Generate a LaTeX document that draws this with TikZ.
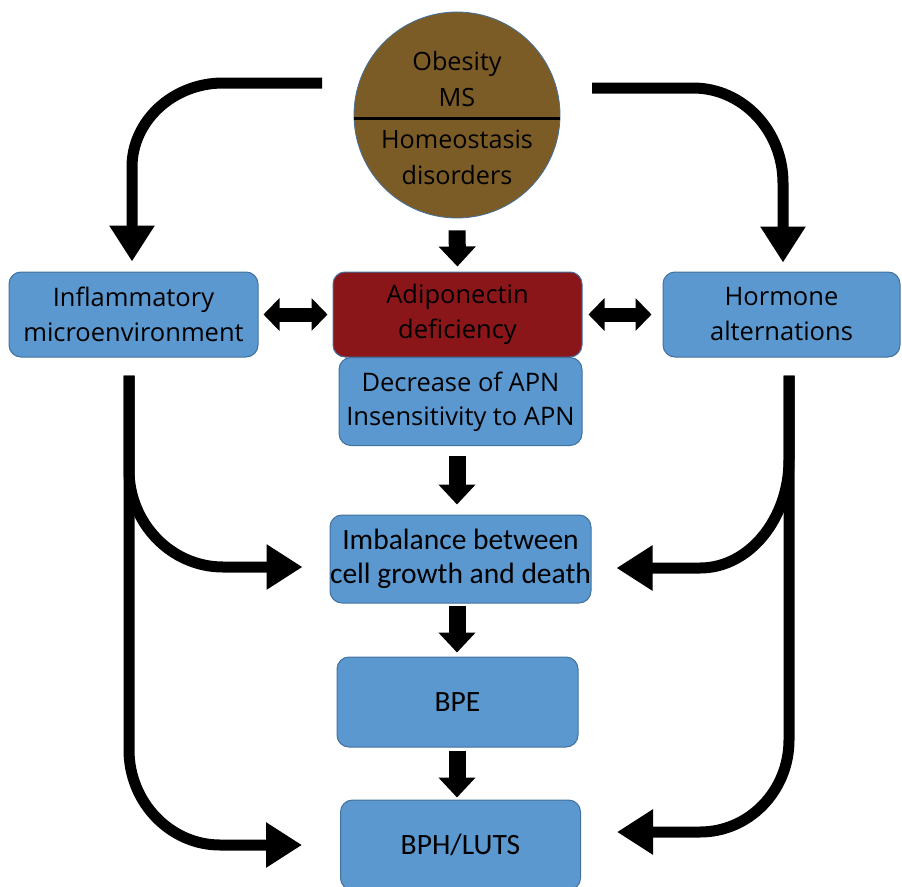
\documentclass[tikz,border=0pt]{standalone}
\usepackage{fontspec}
\setmainfont{Open Sans}
\newfontfamily\calfont{Carlito}
\usetikzlibrary{arrows.meta}
\definecolor{boxblue}{RGB}{91,152,208}
\definecolor{boxedge}{RGB}{65,113,156}
\definecolor{adred}{RGB}{139,22,26}
\definecolor{obbrown}{RGB}{124,92,38}
\begin{document}
\begin{tikzpicture}[x=1pt,y=-1pt,
  box/.style={draw=boxedge, line width=1pt, fill=boxblue, rounded corners=12pt,
    align=center, inner sep=0pt, font=\fontsize{25.5}{35}\selectfont},
  calbox/.style={font=\calfont\fontsize{29.5}{34}\selectfont},
  circtext/.style={anchor=base, inner sep=0pt, font=\fontsize{25.2}{30}\selectfont},
  bigarrow/.style={line width=11pt, -{Triangle[length=36pt,width=43pt]}},
  blockarrow/.style={line width=17pt, -{Triangle[length=20pt,width=36pt]}},
  dblarrow/.style={line width=14pt, {Triangle[length=16pt,width=32pt]}-{Triangle[length=16pt,width=32pt]}}
]
\useasboundingbox (0,0) rectangle (902,886);

% nodes
\node[circle, draw=boxedge, line width=0.8pt, fill=obbrown, minimum size=206pt, inner sep=0pt] (obes) at (457,115) {};
\draw[line width=3pt] ([yshift=-3pt]obes.west) -- ([yshift=-3pt]obes.east);
\node[circtext] (t1) at (457,70) {Obesity};
\node[circtext] (t2) at (457,106) {MS};
\node[circtext] (t3) at (457,148) {Homeostasis};
\node[circtext] (t4) at (457,184) {disorders};

\node[box, minimum width=249pt, minimum height=85pt] (inflam) at (133.5,314.5) {Inflammatory\\microenvironment};
\node[box, fill=adred, minimum width=249pt, minimum height=85pt] (adipo) at (457.5,314.5) {Adiponectin\\deficiency};
\node[box, minimum width=237pt, minimum height=85pt] (horm) at (781.5,314.5) {Hormone\\alternations};
\node[box, font=\fontsize{25.5}{34}\selectfont, minimum width=243pt, minimum height=88pt] (decr) at (460.5,401.5) {Decrease of APN\\Insensitivity to APN};
\node[box, calbox, minimum width=261pt, minimum height=88pt] (imb) at (460.5,559) {Imbalance between\\cell growth and death};
\node[box, calbox, minimum width=241pt, minimum height=90pt] (bpe) at (457.5,702) {BPE};
\node[box, calbox, minimum width=240pt, minimum height=90pt] (bph) at (460.5,845) {BPH/LUTS};

% free ends and bends
\coordinate (ls) at (322,83);
\coordinate (lb) at (132,167);
\coordinate (rs) at (592,88);
\coordinate (rb) at (783,183);
\coordinate (lc1) at (223,567);
\coordinate (lc2) at (220,845);
\coordinate (rc1) at (700,568);
\coordinate (rc2) at (700,832);

% top curved arrows
\draw[bigarrow, shorten >=10pt] (ls) -- (223,83) .. controls (173,83) and (132,121) .. (lb) -- (lb |- inflam.north);
\draw[bigarrow, shorten >=9pt] (rs) -- (693,88) .. controls (743,88) and (783,131) .. (rb) -- (rb |- horm.north);

% left side arrows
\draw[bigarrow, shorten <=18pt, shorten >=27pt] ([xshift=-4.5pt]inflam.south) -- (129,470) .. controls (129,523) and (171,567) .. (lc1) -- (lc1 -| imb.west);
\draw[bigarrow, shorten <=18pt, shorten >=38pt] ([xshift=-4.5pt]inflam.south) -- (129,750) .. controls (129,802) and (170,845) .. (lc2) -- (lc2 -| bph.west);

% right side arrows
\draw[bigarrow, shorten <=18pt, shorten >=25pt] ([xshift=7.5pt]horm.south) -- (789,460) .. controls (789,519) and (749,568) .. (rc1) -- (rc1 -| imb.east);
\draw[bigarrow, shorten <=18pt, shorten >=36pt] ([xshift=7.5pt]horm.south) -- (789,740) .. controls (789,791) and (749,832) .. (rc2) -- (rc2 -| bph.east);

% block arrows
\draw[blockarrow, shorten <=12pt, shorten >=5pt] (obes.south) -- (adipo.north);
\draw[blockarrow, shorten <=10pt, shorten >=10pt] ([xshift=-3.5pt]decr.south) -- ([xshift=-3.5pt]imb.north);
\draw[blockarrow, shorten <=2pt, shorten >=4pt] ([xshift=-3.5pt]imb.south) -- ([xshift=-0.5pt]bpe.north);
\draw[blockarrow, shorten <=3pt, shorten >=2pt] ([xshift=-0.5pt]bpe.south) -- ([xshift=-3.5pt]bph.north);

% double arrows
\draw[dblarrow, shorten <=5pt, shorten >=5pt] (inflam.east) -- (adipo.west);
\draw[dblarrow, shorten <=6pt, shorten >=11pt] (adipo.east) -- (horm.west);
\end{tikzpicture}
\end{document}
